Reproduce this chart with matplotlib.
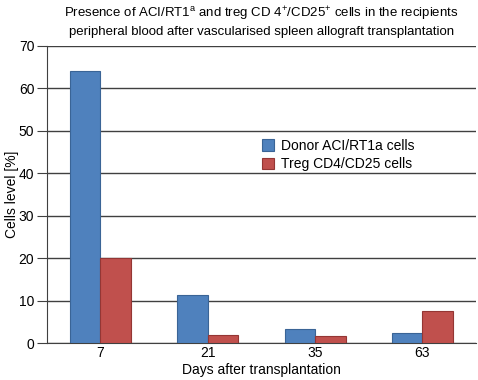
import matplotlib
matplotlib.use("Agg")
import matplotlib.pyplot as plt
import numpy as np

plt.rcParams['font.family'] = ['Liberation Sans', 'DejaVu Sans']
plt.rcParams['mathtext.fontset'] = 'custom'
plt.rcParams['mathtext.rm'] = 'Liberation Sans'
plt.rcParams['mathtext.it'] = 'Liberation Sans'

days = ['7', '21', '35', '63']
donor = [64, 11.3, 3.3, 2.4]
treg = [20, 1.8, 1.7, 7.6]
yticks = [0, 10, 20, 30, 40, 50, 60, 70]

fig = plt.figure(figsize=(4.78, 3.8), dpi=100)
ax = fig.add_axes([0.098, 0.097, 0.898, 0.782])
x = np.arange(len(days))
w = 0.285
ax.bar(x - w/2, donor, w, color='#4F81BD', edgecolor='#3A6496', linewidth=0.8,
       label='Donor ACI/RT1a cells', zorder=3)
ax.bar(x + w/2, treg, w, color='#C0504D', edgecolor='#943634', linewidth=0.8,
       label='Treg CD4/CD25 cells', zorder=3)
ax.set_xlim(-0.5, 3.5)
ax.set_ylim(0, 70)
ax.set_yticks(yticks)
ax.set_xticks(x)
ax.set_xticklabels(days)
ax.yaxis.grid(True, color='#404040', linewidth=1.0, zorder=0)
ax.tick_params(axis='x', length=0, labelsize=10, pad=2)
ax.tick_params(axis='y', length=7, color='#404040', labelsize=10, pad=2)
for s in ['top', 'right']:
    ax.spines[s].set_visible(False)
ax.spines['left'].set_color('#404040')
ax.spines['bottom'].set_color('#404040')
ax.set_xlabel('Days after transplantation', fontsize=10, labelpad=2)
ax.set_ylabel('Cells level [%]', fontsize=10, labelpad=0)
ax.set_title('Presence of ACI/RT1$^{\\mathrm{a}}$ and treg CD 4$^{+}$/CD25$^{+}$ cells in the recipients\n'
             'peripheral blood after vascularised spleen allograft transplantation',
             fontsize=9.5, pad=8, linespacing=1.3)
leg = ax.legend(loc='upper left', bbox_to_anchor=(0.478, 0.72), frameon=False,
                fontsize=10, handlelength=0.9, handleheight=0.9, handletextpad=0.5,
                borderpad=0.2, labelspacing=0.3)
fig.savefig('out.png', dpi=100)
